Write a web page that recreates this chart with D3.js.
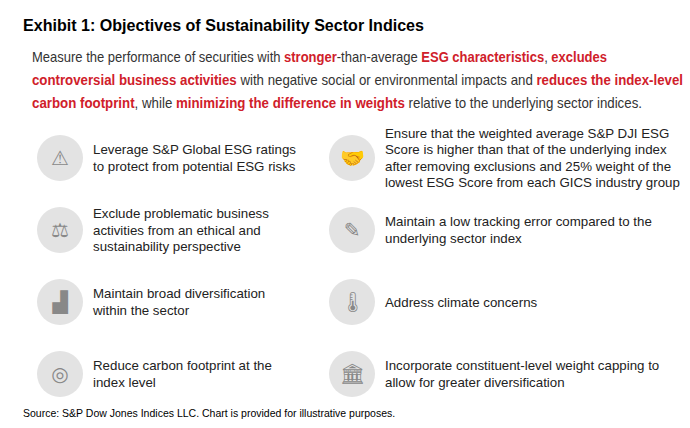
<!DOCTYPE html>
<html><head><meta charset="utf-8">
<script src="https://cdn.jsdelivr.net/npm/d3@7"></script>
<style>body{margin:0;background:#fff}</style></head>
<body><svg id="c" width="690" height="428"></svg>
<script>
const title = "Exhibit 1: Objectives of Sustainability Sector Indices";
const introLines = [
  [["Measure the performance of securities with ",0],["stronger",1],["-than-average ",0],["ESG characteristics",1],[",  ",0],["excludes",1]],
  [["controversial business activities",1],[" with negative social or environmental impacts and ",0],["reduces the index-level",1]],
  [["carbon footprint",1],[",  while ",0],["minimizing the difference in weights",1],[" relative to the underlying sector indices.",0]]
];
const introWidths = [575, 651, 610];
const leftItems = [
  ["Leverage S&P Global ESG ratings","to protect from potential ESG risks"],
  ["Exclude problematic business","activities from an ethical and","sustainability perspective"],
  ["Maintain broad diversification","within the sector"],
  ["Reduce carbon footprint at the","index level"]
];
const rightItems = [
  ["Ensure that the weighted average S&P DJI ESG","Score is higher than that of the underlying index","after removing exclusions and 25% weight of the","lowest ESG Score from each GICS industry group"],
  ["Maintain a low tracking error compared to the","underlying sector index"],
  ["Address climate concerns"],
  ["Incorporate constituent-level weight capping to","allow for greater diversification"]
];
const icons = ["⚠","⚖","▟","◎","🤝","✎","🌡","🏛"];
const source = "Source: S&P Dow Jones Indices LLC.  Chart is provided for illustrative purposes.";

const svg = d3.select("#c");
const sans = "'Liberation Sans',Arial,sans-serif";
svg.append("text").attr("x",23).attr("y",31).attr("font-family",sans)
  .attr("font-weight","bold").attr("font-size",17).attr("fill","#000")
  .attr("textLength",401).attr("lengthAdjust","spacingAndGlyphs").text(title);
const lineY = d3.scalePoint().domain([0,1,2]).range([62,108]);
introLines.forEach((ln,i)=>{
  const t = svg.append("text").attr("x",32).attr("y",lineY(i)).attr("font-family",sans).attr("font-size",14.5)
    .attr("textLength",introWidths[i]).attr("lengthAdjust","spacingAndGlyphs");
  ln.forEach(([s,r])=>t.append("tspan").text(s).attr("fill",r?"#d0202a":"#333").attr("font-weight",r?"bold":"normal"));
});
const rowY = d3.scalePoint().domain([0,1,2,3]).range([158,374]);
const colX = d3.scaleOrdinal().domain(["L","R"]).range([60,352]);
const items = leftItems.map((l,i)=>({col:"L",row:i,lines:l,icon:icons[i]}))
  .concat(rightItems.map((l,i)=>({col:"R",row:i,lines:l,icon:icons[4+i]})));
const g = svg.selectAll("g.it").data(items).join("g").attr("class","it")
  .attr("transform",d=>`translate(${colX(d.col)},${rowY(d.row)})`);
g.append("circle").attr("r",23).attr("fill","#e3e3e3");
g.append("text").attr("text-anchor","middle").attr("dy","0.35em").attr("font-size",20)
  .attr("fill","#888").attr("font-family","'DejaVu Sans',sans-serif").text(d=>d.icon);
g.each(function(d){
  const n=d.lines.length, lh=16.5;
  d3.select(this).selectAll("text.l").data(d.lines).join("text").attr("class","l")
    .attr("x",33).attr("y",(s,j)=>(j-(n-1)/2)*lh+4.5)
    .attr("font-family",sans).attr("font-size",13.3)
    .attr("fill","#222").text(s=>s);
});
svg.append("text").attr("x",23).attr("y",417).attr("font-family",sans)
  .attr("font-size",10.5).attr("fill","#000").text(source);
</script></body></html>
